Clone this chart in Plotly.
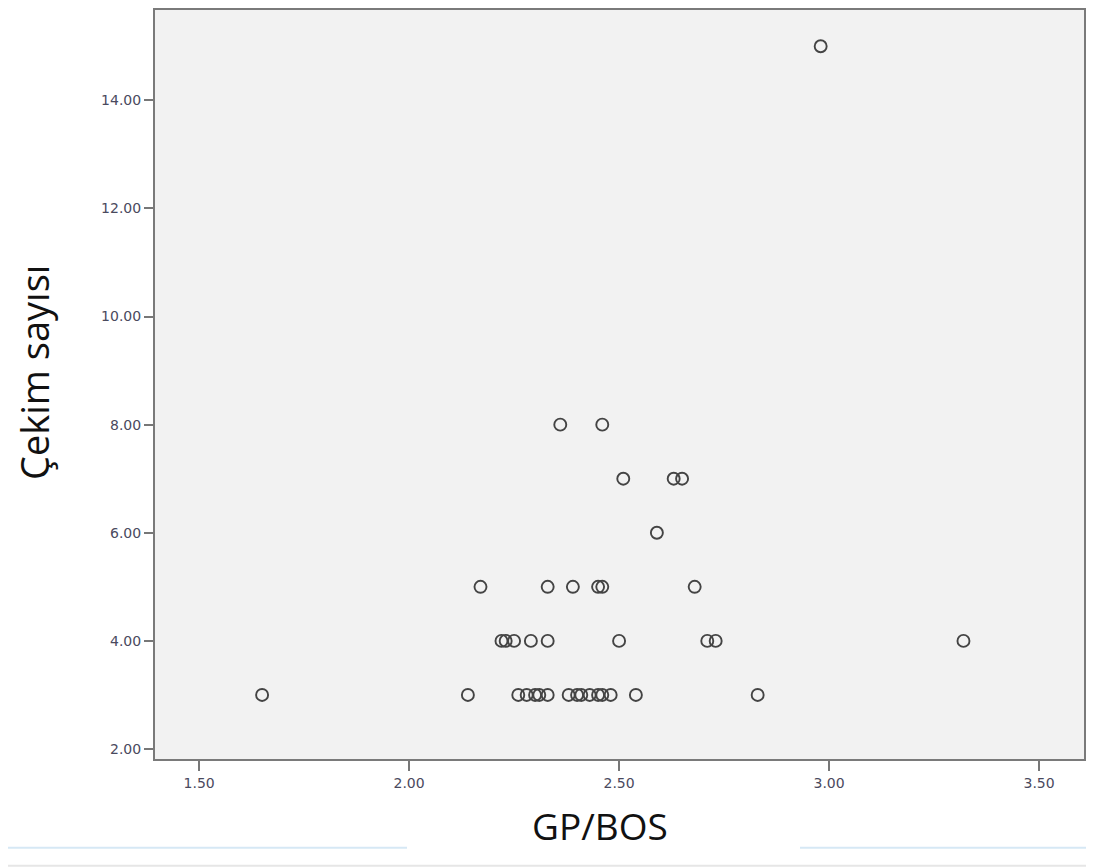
import plotly.graph_objects as go

# Data
gp_bos = [
    2.98,
    2.36, 2.46,
    2.51, 2.63, 2.65,
    2.59,
    2.17, 2.33, 2.39, 2.45, 2.46, 2.68,
    2.22, 2.23, 2.25, 2.29, 2.33, 2.50, 2.71, 2.73, 3.32,
    1.65, 2.14, 2.26, 2.28, 2.30, 2.31, 2.33,
    2.38, 2.40, 2.41, 2.43, 2.45, 2.46, 2.48, 2.54, 2.83,
]
cekim_sayisi = [
    15,
    8, 8,
    7, 7, 7,
    6,
    5, 5, 5, 5, 5, 5,
    4, 4, 4, 4, 4, 4, 4, 4, 4,
    3, 3, 3, 3, 3, 3, 3,
    3, 3, 3, 3, 3, 3, 3, 3, 3,
]
x_ticks = [1.5, 2.0, 2.5, 3.0, 3.5]
y_ticks = [2, 4, 6, 8, 10, 12, 14]
x_title = "GP/BOS"
y_title = "Çekim sayısı"

fig = go.Figure(
    go.Scatter(
        x=gp_bos,
        y=cekim_sayisi,
        mode="markers",
        marker=dict(
            symbol="circle-open",
            size=12,
            color="#444444",
            line=dict(width=1.9, color="#444444"),
        ),
        showlegend=False,
    )
)

tick_font = dict(family="DejaVu Sans", size=14, color="#4a4a5e")
axis_style = dict(
    ticks="outside",
    tickwidth=2,
    tickcolor="#777777",
    tickfont=tick_font,
    showgrid=False,
    zeroline=False,
    showline=True,
    linecolor="#7a7a7a",
    linewidth=2,
    mirror=True,
)

fig.update_xaxes(
    range=[1.395, 3.607],
    tickvals=x_ticks,
    ticktext=[f"{v:.2f}" for v in x_ticks],
    ticklen=10,
    **axis_style,
)
fig.update_yaxes(
    range=[1.815, 15.67],
    tickvals=y_ticks,
    ticktext=[f"{v:.2f}" for v in y_ticks],
    ticklen=9,
    **axis_style,
)

W = 929.0   # plot width in px
H = 751.0   # plot height in px
title_font = dict(family="Open Sans", color="#111111")

fig.update_layout(
    width=1086,
    height=859,
    margin=dict(l=147, r=10, t=0, b=108),
    paper_bgcolor="white",
    plot_bgcolor="#f2f2f2",
    annotations=[
        dict(text=x_title, xref="paper", yref="paper", x=(600 - 155) / W, y=-(826 - 759) / H,
             xanchor="center", yanchor="middle", showarrow=False, font=dict(size=37, **title_font)),
        dict(text=y_title, xref="paper", yref="paper", x=(34 - 155) / W, y=(759 - 372) / H,
             xanchor="center", yanchor="middle", textangle=-90, showarrow=False,
             font=dict(size=38, **title_font)),
    ],
    shapes=[
        dict(type="line", xref="paper", yref="paper", x0=(8 - 155) / W, x1=(407 - 155) / W,
             y0=-(848 - 759) / H, y1=-(848 - 759) / H, line=dict(color="#d6e8f5", width=2)),
        dict(type="line", xref="paper", yref="paper", x0=(800 - 155) / W, x1=(1094 - 155) / W,
             y0=-(848 - 759) / H, y1=-(848 - 759) / H, line=dict(color="#d6e8f5", width=2)),
        dict(type="line", xref="paper", yref="paper", x0=(8 - 155) / W, x1=(1094 - 155) / W,
             y0=-(866 - 759) / H, y1=-(866 - 759) / H, line=dict(color="#e6e6e6", width=2)),
    ],
)

fig.write_html("out.html")
